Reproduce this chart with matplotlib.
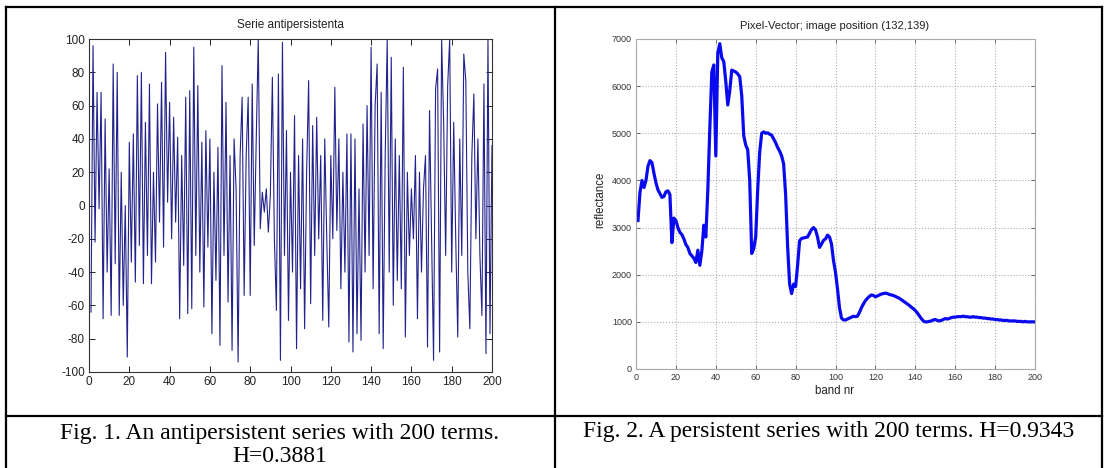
import matplotlib
matplotlib.use("Agg")
import matplotlib.pyplot as plt
from matplotlib.lines import Line2D

plt.rcParams['axes.unicode_minus'] = False

# ---------------- data ----------------
anti_x = list(range(1, 201))
anti_y = [
    -64, 96, -22, 68, -2, 68, -68, 52, -40, 22,
    -66, 85, -35, 80, -66, 20, -60, 0, -91, 38,
    -34, 43, -46, 78, -24, 80, -47, 50, -30, 73,
    -47, 20, -34, 61, -10, 74, -25, 92, 2, 62,
    -20, 53, -10, 41, -68, 30, -36, 65, -65, 69,
    -62, 95, -30, 72, -40, 38, -61, 45, -25, 40,
    -77, 20, -45, 35, -84, 84, -30, 62, -58, 30,
    -87, 40, 10, -94, 30, 65, -54, 30, 65, -54,
    73, -24, 40, 100, -14, 8, -4, 10, -16, 6,
    77, -20, -63, 79, -93, 98, -30, 45, -69, 20,
    -40, 54, -86, 30, -50, 40, -74, 20, 75, -59,
    48, -30, 53, -20, 30, -69, 40, -20, -73, 30,
    -20, 71, -15, 40, -50, 20, -40, 43, -82, 43,
    -88, 40, -77, 10, -81, 49, -40, 60, -30, 95,
    -50, 60, 85, -77, 68, -86, 30, 100, -40, 89,
    -60, 40, -45, 30, -50, 83, -79, 20, -30, 10,
    -20, 30, -68, 20, -40, 10, 30, -85, 57, -20,
    -93, 70, 82, -88, 100, 50, -30, 72, 100, -40,
    50, -20, -79, 40, -30, 91, 75, -40, -74, 30,
    67, -20, 40, -30, -66, 73, -89, 100, -77, 36,
]

band_nr = list(range(1, 201))
reflectance = [
    3150, 3750, 4000, 3850, 4000, 4300, 4420, 4380, 4150, 3950,
    3800, 3720, 3640, 3660, 3760, 3780, 3700, 2680, 3200, 3150,
    3000, 2900, 2850, 2760, 2640, 2580, 2450, 2400, 2350, 2260,
    2520, 2200, 2500, 3050, 2800, 3800, 5100, 6300, 6450, 4520,
    6700, 6900, 6600, 6520, 6100, 5600, 5900, 6340, 6320, 6300,
    6260, 6200, 5800, 4950, 4750, 4650, 4000, 2450, 2550, 2800,
    3800, 4600, 5000, 5030, 5000, 5010, 4980, 4960, 4880, 4800,
    4700, 4620, 4520, 4350, 3700, 2600, 1800, 1600, 1800, 1750,
    2200, 2720, 2770, 2780, 2790, 2800, 2880, 2960, 3000, 2950,
    2800, 2580, 2650, 2730, 2760, 2840, 2800, 2650, 2300, 2050,
    1700, 1300, 1080, 1040, 1040, 1060, 1080, 1100, 1120, 1110,
    1120, 1200, 1300, 1380, 1450, 1500, 1540, 1570, 1560, 1530,
    1550, 1570, 1590, 1600, 1610, 1600, 1580, 1570, 1560, 1540,
    1520, 1500, 1470, 1440, 1410, 1380, 1350, 1310, 1280, 1240,
    1190, 1130, 1070, 1020, 1000, 1000, 1010, 1020, 1040, 1050,
    1030, 1020, 1030, 1050, 1070, 1060, 1070, 1090, 1100, 1100,
    1110, 1110, 1110, 1120, 1110, 1110, 1100, 1100, 1110, 1100,
    1100, 1090, 1090, 1080, 1080, 1070, 1070, 1060, 1060, 1050,
    1050, 1040, 1040, 1030, 1030, 1030, 1020, 1020, 1020, 1020,
    1010, 1010, 1010, 1000, 1010, 1000, 1000, 1000, 1000, 1000,
]

left_xticks = list(range(0, 201, 20))
left_yticks = list(range(-100, 101, 20))
right_xticks = list(range(0, 201, 20))
right_yticks = list(range(0, 7001, 1000))

title_left = "Serie antipersistenta"
title_right = "Pixel-Vector; image position (132,139)"
caption_left = ["Fig. 1. An antipersistent series with 200 terms.", "H=0.3881"]
caption_right = "Fig. 2. A persistent series with 200 terms. H=0.9343"

# ---------------- figure ----------------
W, H = 1105, 468
fig = plt.figure(figsize=(W / 100, H / 100), dpi=100)
fig.patch.set_facecolor("white")


def fx(px):
    return px / W


def fy(py):
    return 1 - py / H


sans = "Liberation Sans"
serif = "Liberation Serif"

# table borders
for (x0, y0, x1, y1) in [(6, 7, 1102, 7), (6, 7, 6, 468), (1102, 7, 1102, 468),
                         (555, 7, 555, 468), (6, 416, 1102, 416)]:
    fig.add_artist(Line2D([fx(x0), fx(x1)], [fy(y0), fy(y1)], color="black",
                          lw=1.6, solid_capstyle="projecting"))

# ---------------- left axes ----------------
axL = fig.add_axes([fx(89), fy(372), fx(492) - fx(89), fy(39) - fy(372)])
axL.plot(anti_x, anti_y, color="#22228c", lw=0.8)
axL.set_xlim(0, 200)
axL.set_ylim(-100, 100)
axL.set_xticks(left_xticks)
axL.set_yticks(left_yticks)
axL.tick_params(direction="in", top=True, right=True, length=4, width=0.7,
                labelsize=8.5, colors="#222222", pad=3)
for lab in axL.get_xticklabels() + axL.get_yticklabels():
    lab.set_family(sans)
for s in axL.spines.values():
    s.set_color("#333333")
    s.set_linewidth(0.8)
fig.text(fx(290), fy(25), title_left, ha="center", va="center", fontsize=8.5,
         family=sans, color="#222222")

# ---------------- right axes ----------------
axR = fig.add_axes([fx(636), fy(369), fx(1035) - fx(636), fy(39) - fy(369)])
axR.plot(band_nr, reflectance, color="#0a0aee", lw=2.3)
axR.set_xlim(0, 200)
axR.set_ylim(0, 7000)
axR.set_xticks(right_xticks)
axR.set_yticks(right_yticks)
axR.grid(True, linestyle=":", color="#b0b0b0", lw=0.8)
axR.tick_params(direction="in", top=True, right=True, length=3, width=0.6,
                labelsize=6.5, colors="#555555", pad=3)
for lab in axR.get_xticklabels() + axR.get_yticklabels():
    lab.set_family(sans)
    lab.set_color("#333333")
for s in axR.spines.values():
    s.set_color("#a8a8a8")
    s.set_linewidth(0.8)
fig.text(fx(835), fy(26), title_right, ha="center", va="center", fontsize=8,
         family=sans, color="#222222")
fig.text(fx(835), fy(391), "band nr", ha="center", va="center", fontsize=8.3,
         family=sans, color="#222222")
fig.text(fx(600), fy(200), "reflectance", ha="center", va="center", fontsize=8.3,
         family=sans, color="#222222", rotation=90)

# ---------------- captions ----------------
fig.text(fx(280), fy(433), caption_left[0], ha="center", va="center",
         fontsize=17, family=serif, color="black")
fig.text(fx(280), fy(457), caption_left[1], ha="center", va="center",
         fontsize=17, family=serif, color="black")
fig.text(fx(829), fy(432), caption_right, ha="center", va="center",
         fontsize=17, family=serif, color="black")

fig.savefig("out.png", dpi=100, facecolor="white")
